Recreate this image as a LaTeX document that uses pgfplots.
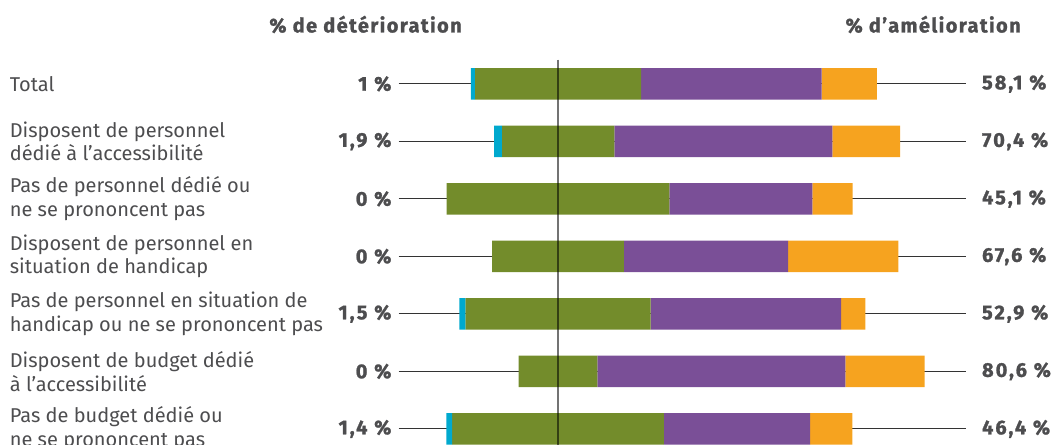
\documentclass[border=0pt]{standalone}
\usepackage{pgfplots}
\pgfplotsset{compat=1.18}
\usepackage{pgfplotstable}
\usepackage{fontspec}
\setmainfont{Fira Sans}

\definecolor{txt}{HTML}{4D4D4F}
\definecolor{cDet}{HTML}{00A9CE}
\definecolor{cStable}{HTML}{738C2B}
\definecolor{cImp}{HTML}{7A4F97}
\definecolor{cStrong}{HTML}{F6A31F}

\newcommand\heavytitle{\bfseries\addfontfeatures{FakeBold=1.2, LetterSpace=7}}
\newcommand\heavynum{\bfseries\addfontfeatures{FakeBold=1.2, LetterSpace=10}}

% det = deterioration, stable = no change (centred), imp / strong = improvement
\pgfplotstableread{
row det stable imp  strong
1   1.0 40.9   44.5 13.6
2   1.9 27.7   53.7 16.7
3   0.0 54.9   35.2  9.9
4   0.0 32.4   40.5 27.1
5   1.5 45.6   46.9  6.0
6   0.0 19.4   61.1 19.5
7   1.4 52.2   36.0 10.4
}\data

\pgfplotsset{frame/.style={
    scale only axis, width=791.25pt, height=333.75pt,
    at={(0pt,0pt)}, anchor=south west,
    xmin=12.56, xmax=272.41, ymin=-0.459, ymax=7.28, y dir=reverse,
    hide axis}}

\begin{document}
\begin{tikzpicture}
% leader lines (behind the bars)
\begin{axis}[frame, unbounded coords=jump]
\addplot[black!80, line width=0.8pt] coordinates {
    (110.72,1) (250.42,1) (nan,nan) (110.72,2) (250.42,2) (nan,nan)
    (110.72,3) (250.42,3) (nan,nan) (110.72,4) (250.42,4) (nan,nan)
    (110.72,5) (250.42,5) (nan,nan) (110.72,6) (250.42,6) (nan,nan)
    (110.72,7) (250.42,7)};
\end{axis}

% bars, centred on the "stable" segment around x=150
\begin{axis}[frame, xbar stacked, bar width=0.551]
\addplot[draw=none, fill=none] table[x expr=150-\thisrow{det}-0.5*\thisrow{stable}, y=row]{\data};
\addplot[draw=none, fill=cDet] table[x=det, y=row]{\data};
\addplot[draw=none, fill=cStable] table[x=stable, y=row]{\data};
\addplot[draw=none, fill=cImp] table[x=imp, y=row]{\data};
\addplot[draw=none, fill=cStrong] table[x=strong, y=row]{\data};
\end{axis}

% centre line and texts
\begin{axis}[frame, clip=false]
\addplot[black, opacity=0.55, line width=1.1pt] coordinates {(150,0.577) (150,7.28)};

\begin{scope}[every node/.style={text=txt}]
\node[font=\heavytitle\fontsize{15}{17}\selectfont] at (axis cs:102.59,-0.033) {\% de détérioration};
\node[font=\heavytitle\fontsize{15}{17}\selectfont] at (axis cs:242.39,-0.033) {\% d’amélioration};

\begin{scope}[every node/.append style={anchor=west, align=left, font=\fontsize{15}{17.7}\selectfont}]
\node at (axis cs:13.82,1) {Total};
\node at (axis cs:13.82,2) {Disposent de personnel\\dédié à l’accessibilité};
\node at (axis cs:13.82,3) {Pas de personnel dédié ou\\ne se prononcent pas};
\node at (axis cs:13.82,4) {Disposent de personnel en\\situation de handicap};
\node at (axis cs:13.82,5) {Pas de personnel en situation de\\handicap ou ne se prononcent pas};
\node at (axis cs:13.82,6) {Disposent de budget dédié\\à l’accessibilité};
\node at (axis cs:13.82,7) {Pas de budget dédié ou\\ne se prononcent pas};
\end{scope}

\begin{scope}[every node/.append style={anchor=east, font=\heavynum\fontsize{15}{17}\selectfont}]
\node at (axis cs:110.12,1) {1 \%};
\node at (axis cs:110.12,2) {1,9 \%};
\node at (axis cs:110.12,3) {0 \%};
\node at (axis cs:110.12,4) {0 \%};
\node at (axis cs:110.12,5) {1,5 \%};
\node at (axis cs:110.12,6) {0 \%};
\node at (axis cs:110.12,7) {1,4 \%};
\end{scope}

\begin{scope}[every node/.append style={anchor=west, font=\heavynum\fontsize{15}{17}\selectfont}]
\node at (axis cs:253.28,1) {58,1 \%};
\node at (axis cs:253.28,2) {70,4 \%};
\node at (axis cs:253.28,3) {45,1 \%};
\node at (axis cs:253.28,4) {67,6 \%};
\node at (axis cs:253.28,5) {52,9 \%};
\node at (axis cs:253.28,6) {80,6 \%};
\node at (axis cs:253.28,7) {46,4 \%};
\end{scope}
\end{scope}
\end{axis}

\pgfresetboundingbox
\path[use as bounding box] (0pt,0pt) rectangle (791.25pt,333.75pt);
\end{tikzpicture}
\end{document}
